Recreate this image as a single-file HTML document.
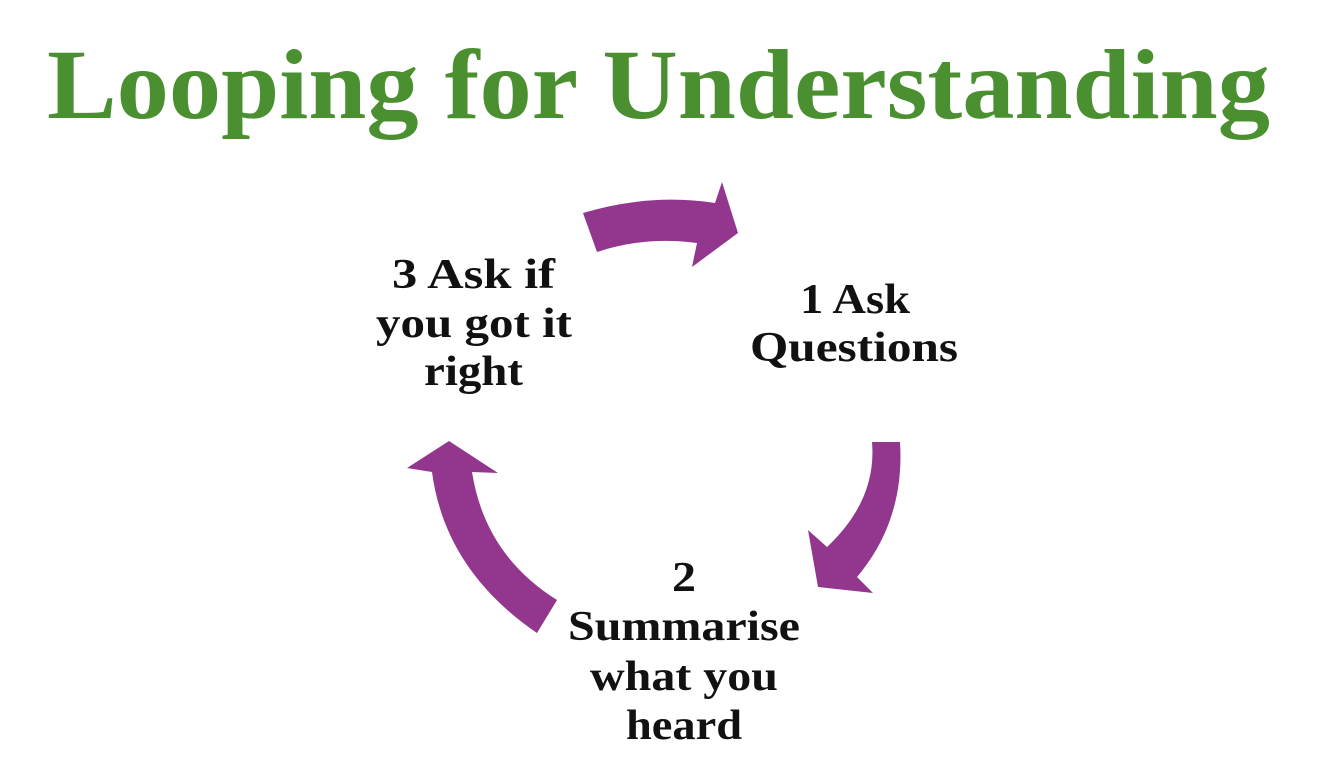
<!DOCTYPE html>
<html><head><meta charset="utf-8"><style>
html,body{margin:0;padding:0;background:#fff;}
svg{display:block;}
text{font-family:"Liberation Serif",serif;font-weight:bold;}
</style></head><body>
<svg width="1324" height="772" viewBox="0 0 1324 772" xmlns="http://www.w3.org/2000/svg">
<text x="47" y="118" font-size="100" fill="#4a9030" textLength="1223" lengthAdjust="spacingAndGlyphs">Looping for Understanding</text>
<g fill="#92368e">
<path d="M583,213 Q650,193 715,203 L722,182 L738,233 L692,267 L697,243 Q645,236 597,252 Z"/>
<path d="M872,442 L900,442 Q905,520 857,577 L873,593 L818,587 L808,530 L827,547 Q877,500 872,442 Z"/>
<path d="M557,600 L537,633 Q445,570 432,472 L407,468 L449,441 L498,473 L472,472 Q485,555 557,600 Z"/>
</g>
<g font-size="42" fill="#111" lengthAdjust="spacingAndGlyphs">
<text x="800" y="313" textLength="110" lengthAdjust="spacingAndGlyphs">1 Ask</text>
<text x="750" y="361" textLength="208" lengthAdjust="spacingAndGlyphs">Questions</text>
<text x="392" y="288" textLength="163" lengthAdjust="spacingAndGlyphs">3 Ask if</text>
<text x="376" y="337" textLength="196" lengthAdjust="spacingAndGlyphs">you got it</text>
<text x="424" y="385" textLength="99" lengthAdjust="spacingAndGlyphs">right</text>
<text x="672" y="591" textLength="24" lengthAdjust="spacingAndGlyphs">2</text>
<text x="568" y="640" textLength="232" lengthAdjust="spacingAndGlyphs">Summarise</text>
<text x="590" y="690" textLength="188" lengthAdjust="spacingAndGlyphs">what you</text>
<text x="626" y="739" textLength="116" lengthAdjust="spacingAndGlyphs">heard</text>
</g>
</svg>
</body></html>
